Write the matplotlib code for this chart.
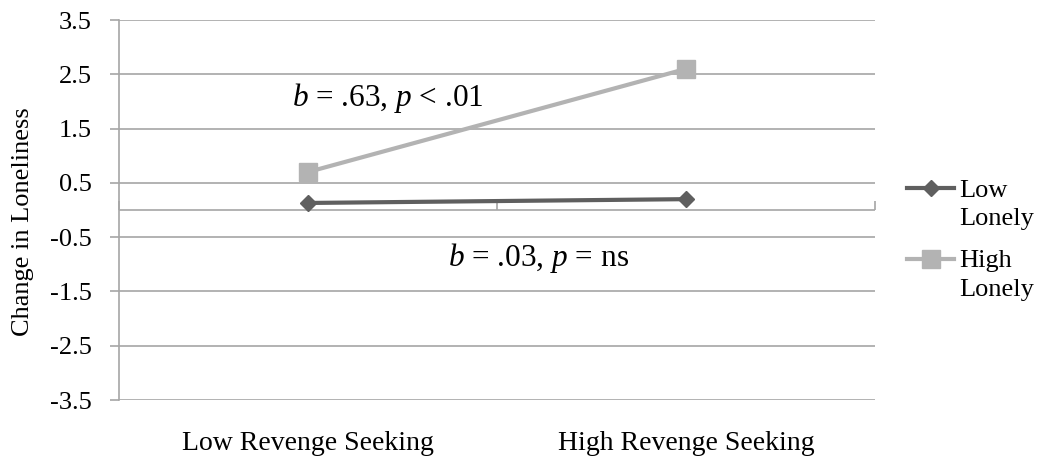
import matplotlib
matplotlib.use("Agg")
import matplotlib.pyplot as plt
from matplotlib.legend_handler import HandlerLine2D
from matplotlib.transforms import Affine2D

plt.rcParams.update({
    "font.family": ["Liberation Serif", "DejaVu Serif"],
    "mathtext.fontset": "custom",
    "mathtext.it": "Liberation Serif:italic",
    "mathtext.rm": "Liberation Serif",
})

categories = ["Low Revenge Seeking", "High Revenge Seeking"]
low_lonely = [0.13, 0.20]
high_lonely = [0.70, 2.60]
yticks = [3.5, 2.5, 1.5, 0.5, -0.5, -1.5, -2.5, -3.5]

GRID = "#a6a6a6"
DARK = "#5f5f5f"
LIGHT = "#b3b3b3"


class FirstLineHandler(HandlerLine2D):
    # put the legend key next to the first line of a two-line label
    def create_artists(self, legend, orig_handle, xdescent, ydescent,
                       width, height, fontsize, trans):
        up = Affine2D().translate(0, 0.6 * fontsize)
        return super().create_artists(legend, orig_handle, xdescent, ydescent,
                                      width, height, fontsize, up + trans)


fig = plt.figure(figsize=(10.45, 4.57), dpi=100)
ax = fig.add_axes([0.1139, 0.1247, 0.7234, 0.8315])

x = list(range(len(categories)))
ax.plot(x, low_lonely, color=DARK, lw=3, marker="D", ms=8,
        label="Low\nLonely", zorder=3)
ax.plot(x, high_lonely, color=LIGHT, lw=3, marker="s", ms=12.5,
        label="High\nLonely", zorder=3)

ax.set_xlim(-0.5, 1.5)
ax.set_ylim(-3.5, 3.5)
ax.set_yticks(yticks)
ax.set_yticklabels([f"{v:.1f}" for v in yticks])
ax.grid(axis="y", color=GRID, lw=1.2)
ax.set_axisbelow(True)

for s in ["top", "right", "bottom"]:
    ax.spines[s].set_visible(False)
ax.spines["left"].set_color(GRID)
ax.spines["left"].set_linewidth(1.2)
ax.tick_params(axis="y", length=6.5, color=GRID, width=1.2, labelsize=19, pad=13)
ax.set_xticks(x)
ax.set_xticklabels(categories)
ax.tick_params(axis="x", length=0, labelsize=20, pad=22)

# category axis drawn at y = 0
ax.axhline(0, color=GRID, lw=1.2, zorder=1)
sec = ax.secondary_xaxis(0.5)
sec.set_xticks([-0.5, 0.5, 1.5])
sec.set_xticklabels([])
sec.tick_params(length=6.5, color=GRID, width=1.2)
for sp in sec.spines.values():
    sp.set_visible(False)

ax.set_ylabel("Change in Loneliness", fontsize=19)
ax.yaxis.set_label_coords(-0.113, 0.47)

ax.text(0.21, 2.06, r"$b$ = .63, $p$ < .01", fontsize=22.5,
        ha="center", va="center")
ax.text(0.61, -0.89, r"$b$ = .03, $p$ = ns", fontsize=22.5,
        ha="center", va="center")

leg = ax.legend(loc="upper left", bbox_to_anchor=(1.043, 0.58), frameon=False,
                fontsize=19, handlelength=1.75, handletextpad=0.2,
                labelspacing=0.75, borderpad=0, borderaxespad=0,
                handler_map={plt.Line2D: FirstLineHandler()})
for t in leg.get_texts():
    t.set_linespacing(1.4)

fig.savefig("out.png", dpi=100)
